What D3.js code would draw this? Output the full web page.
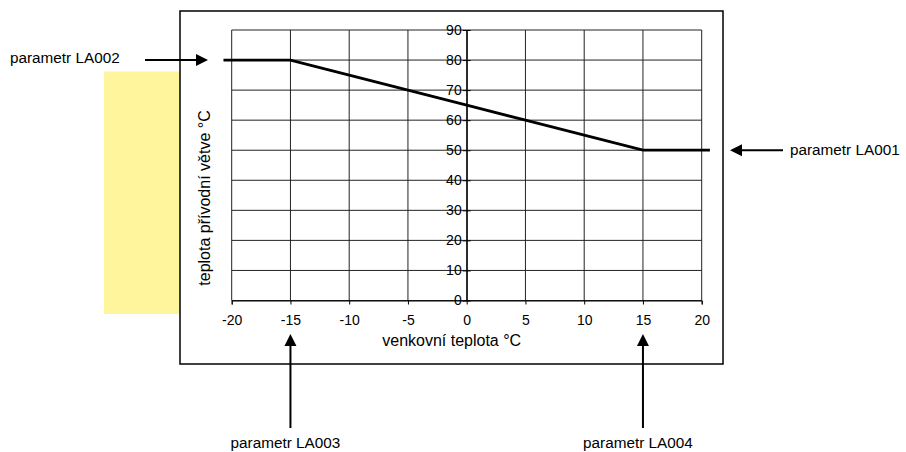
<!DOCTYPE html>
<html>
<head>
<meta charset="utf-8">
<script src="https://cdn.jsdelivr.net/npm/d3@7"></script>
<style>
  body { margin: 0; background: #fff; }
  text { font-family: "Liberation Sans", Arial, sans-serif; fill: #000; }
</style>
</head>
<body>
<div id="chart"></div>
<script>
// data
var xTicks = [-20, -15, -10, -5, 0, 5, 10, 15, 20];
var yTicks = [0, 10, 20, 30, 40, 50, 60, 70, 80, 90];
var curveX = [-20.7, -15, -10, -5, 0, 5, 10, 15, 20.7];
var curveY = [80, 80, 75, 70, 65, 60, 55, 50, 50];
var xTitle = "venkovní teplota °C";
var yTitle = "teplota přívodní větve °C";
// annotation labels and the value they point to
var leftLabel = {text: "parametr LA002", value: 80};
var rightLabel = {text: "parametr LA001", value: 50};
var bottomLabels = [{text: "parametr LA003", value: -15}, {text: "parametr LA004", value: 15}];

var W = 906, H = 452;

var svg = d3.select("#chart")
  .append("svg")
    .attr("width", W)
    .attr("height", H);

//scales
var x = d3.scaleLinear().domain([-20, 20]).range([231.7, 701.7]);
var y = d3.scaleLinear().domain([0, 90]).range([300.5, 30]);

//yellow box on the left
svg.append("rect")
  .attr("x", 104).attr("y", 71.5)
  .attr("width", 76).attr("height", 242.5)
  .style("fill", "#fff59d");

//outer frame
svg.append("rect")
  .attr("x", 180).attr("y", 11)
  .attr("width", 543).attr("height", 353)
  .style("fill", "none")
  .style("stroke", "#000")
  .style("stroke-width", 1.5);

//grid
svg.append("g")
  .selectAll("line")
  .data(xTicks)
  .enter().append("line")
    .attr("x1", function(d) { return x(d); })
    .attr("x2", function(d) { return x(d); })
    .attr("y1", y(0)).attr("y2", y(90))
    .style("stroke", "#222").style("stroke-width", 1);

svg.append("g")
  .selectAll("line")
  .data(yTicks)
  .enter().append("line")
    .attr("y1", function(d) { return y(d); })
    .attr("y2", function(d) { return y(d); })
    .attr("x1", x(-20)).attr("x2", x(20))
    .style("stroke", "#222").style("stroke-width", 1);

//x axis
var gx = svg.append("g")
  .attr("transform", "translate(0," + y(0) + ")")
  .call(d3.axisBottom(x).tickValues(xTicks).tickSize(4).tickPadding(11).tickFormat(function(d) { return String(d); }));
gx.select(".domain").style("stroke", "#000");
gx.selectAll("text").style("font-size", "14px").style("font-family", "Liberation Sans, Arial, sans-serif");

//y axis (at x = 0)
var gy = svg.append("g")
  .attr("transform", "translate(" + x(0) + ",0)")
  .call(d3.axisLeft(y).tickValues(yTicks).tickSize(0).tickPadding(5).tickFormat(function(d) { return String(d); }));
gy.select(".domain").style("stroke", "#000").style("stroke-width", 1.2);
gy.selectAll("text").style("font-size", "14px").style("font-family", "Liberation Sans, Arial, sans-serif");
//cross ticks
gy.selectAll(".tick").append("line")
  .attr("x1", -4).attr("x2", 4)
  .style("stroke", "#000");

//axis titles
svg.append("text")
  .attr("x", 451.7).attr("y", 346)
  .attr("text-anchor", "middle")
  .style("font-size", "16px")
  .text(xTitle);

svg.append("text")
  .attr("transform", "translate(210," + 198 + ") rotate(-90)")
  .attr("text-anchor", "middle")
  .style("font-size", "16px")
  .text(yTitle);

//curve
var line = d3.line()
  .x(function(d) { return x(d[0]); })
  .y(function(d) { return y(d[1]); });

svg.append("path")
  .datum(d3.zip(curveX, curveY))
  .attr("d", line)
  .style("fill", "none")
  .style("stroke", "#000")
  .style("stroke-width", 2.8);

//arrows
function arrow(x1, y1, x2, y2) {
  var a = Math.atan2(y2 - y1, x2 - x1), L = 12, w = 6;
  var bx = x2 - L * Math.cos(a), by = y2 - L * Math.sin(a);
  svg.append("line")
    .attr("x1", x1).attr("y1", y1).attr("x2", bx).attr("y2", by)
    .style("stroke", "#000").style("stroke-width", 2);
  svg.append("path")
    .attr("d", "M" + x2 + "," + y2 +
      "L" + (bx - w * Math.sin(a)) + "," + (by + w * Math.cos(a)) +
      "L" + (bx + w * Math.sin(a)) + "," + (by - w * Math.cos(a)) + "Z")
    .style("fill", "#000");
}

var ly = y(leftLabel.value);
svg.append("text")
  .attr("x", 10).attr("y", ly + 3)
  .style("font-size", "15.3px")
  .text(leftLabel.text);
arrow(145, ly, 208, ly);

var ry = y(rightLabel.value);
svg.append("text")
  .attr("x", 790).attr("y", ry + 5)
  .style("font-size", "15.3px")
  .text(rightLabel.text);
arrow(783, ry, 730, ry);

bottomLabels.forEach(function(d) {
  var bx = x(d.value);
  arrow(bx, 428, bx, 334);
  svg.append("text")
    .attr("x", bx - 5).attr("y", 448)
    .attr("text-anchor", "middle")
    .style("font-size", "15.3px")
    .text(d.text);
});
</script>
</body>
</html>
